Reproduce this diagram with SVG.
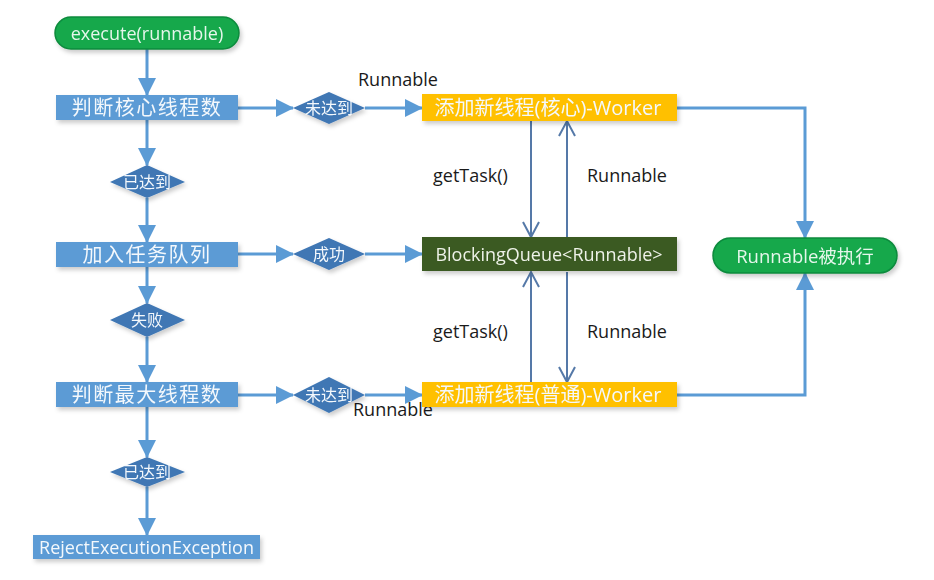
<svg xmlns="http://www.w3.org/2000/svg" width="934" height="580" viewBox="0 0 934 580">
<style>
.box{fill:#5b9bd5;}
.dia{fill:#3f77b4;}
.pill{fill:#12a84c;stroke:#0e8a3c;stroke-width:1.5;}
.yel{fill:#ffc000;}
.q{fill:#3b5a22;}
.t{font-family:"Open Sans","Noto Sans CJK SC",sans-serif;text-anchor:middle;dominant-baseline:central;}
.wt{fill:#f4f8fc;font-size:20px;}
.dt{fill:#f4f8fc;font-size:16px;}
.lb{fill:#1a1a1a;font-size:18px;font-family:"Open Sans","Noto Sans CJK SC",sans-serif;}
.c{fill:none;stroke:#5b9bd5;stroke-width:3;marker-end:url(#ah);}
.thin{fill:none;stroke:#5579a8;stroke-width:2;marker-end:url(#oh);}
</style>
<defs>
<marker id="ah" markerUnits="userSpaceOnUse" markerWidth="18" markerHeight="18" refX="17" refY="9" orient="auto">
<path d="M0,0 L18,9 L0,18 z" fill="#5b9bd5"/>
</marker>
<marker id="oh" markerUnits="userSpaceOnUse" markerWidth="20" markerHeight="20" refX="16" refY="10" orient="auto">
<path d="M1,2 L16,10 L1,18" fill="none" stroke="#5579a8" stroke-width="2"/>
</marker>
<filter id="sh" x="-10%" y="-30%" width="120%" height="170%">
<feDropShadow dx="2" dy="3" stdDeviation="2" flood-color="#000" flood-opacity="0.2"/>
</filter>
</defs>
<rect width="934" height="580" fill="#ffffff"/>

<g id="connectors">
<path class="c" d="M147,49 V95"/>
<path class="c" d="M147,120 V165"/>
<path class="c" d="M147,198 V242"/>
<path class="c" d="M147,267 V303"/>
<path class="c" d="M147,337 V382"/>
<path class="c" d="M147,407 V457"/>
<path class="c" d="M147,487 V535"/>
<path class="c" d="M238,108 H293"/>
<path class="c" d="M365,108 H422"/>
<path class="c" d="M238,254 H293"/>
<path class="c" d="M365,254 H422"/>
<path class="c" d="M238,395 H293"/>
<path class="c" d="M365,395 H422"/>
<path class="c" d="M677,108 H805 V238"/>
<path class="c" d="M677,395 H805 V273"/>
<path class="thin" d="M531,121 V237"/>
<path class="thin" d="M567,237 V121"/>
<path class="thin" d="M531,382 V272"/>
<path class="thin" d="M567,272 V382"/>
<text class="lb" x="358" y="86">Runnable</text>
<text class="lb" x="433" y="182">getTask()</text>
<text class="lb" x="587" y="182">Runnable</text>
<text class="lb" x="433" y="338">getTask()</text>
<text class="lb" x="587" y="338">Runnable</text>
<text class="lb" x="353" y="416">Runnable</text>
</g>

<g id="n-execute" filter="url(#sh)">
<rect class="pill" x="55" y="17" width="184" height="32" rx="16"/>
<text class="t" x="147" y="33" fill="#e6f6ea" font-size="18">execute(runnable)</text>
</g>
<g id="n-core" filter="url(#sh)">
<rect class="box" x="56" y="95" width="182" height="25"/>
<text class="t wt" x="147" y="107.5" letter-spacing="1.5">判断核心线程数</text>
</g>
<g id="n-d1" filter="url(#sh)">
<polygon class="dia" points="293,108 329,92 365,108 329,124"/>
<text class="t dt" x="329" y="108">未达到</text>
</g>
<g id="n-w1" filter="url(#sh)">
<rect class="yel" x="422" y="94" width="255" height="27"/>
<text class="t wt" x="548" y="107.5">添加新线程(核心)-Worker</text>
</g>
<g id="n-d2" filter="url(#sh)">
<polygon class="dia" points="110,182 147,165 185,182 147,198"/>
<text class="t dt" x="147" y="182">已达到</text>
</g>
<g id="n-queue-add" filter="url(#sh)">
<rect class="box" x="56" y="242" width="182" height="25"/>
<text class="t wt" x="147" y="254.5" letter-spacing="1.5">加入任务队列</text>
</g>
<g id="n-d3" filter="url(#sh)">
<polygon class="dia" points="293,254 329,238 365,254 329,270"/>
<text class="t dt" x="329" y="254">成功</text>
</g>
<g id="n-queue" filter="url(#sh)">
<rect class="q" x="422" y="237" width="255" height="34"/>
<text class="t" x="549" y="254" fill="#eef2e8" font-size="18">BlockingQueue&lt;Runnable&gt;</text>
</g>
<g id="n-run" filter="url(#sh)">
<rect class="pill" x="713" y="238" width="184" height="35" rx="17.5"/>
<text class="t" x="805" y="255.5" fill="#e6f6ea" font-size="18.5">Runnable被执行</text>
</g>
<g id="n-d4" filter="url(#sh)">
<polygon class="dia" points="110,320 147,303 185,320 147,337"/>
<text class="t dt" x="147" y="320">失败</text>
</g>
<g id="n-max" filter="url(#sh)">
<rect class="box" x="56" y="382" width="182" height="25"/>
<text class="t wt" x="147" y="394.5" letter-spacing="1.5">判断最大线程数</text>
</g>
<g id="n-d5" filter="url(#sh)">
<polygon class="dia" points="293,395 329,377 365,395 329,413"/>
<text class="t dt" x="329" y="395">未达到</text>
</g>
<g id="n-w2" filter="url(#sh)">
<rect class="yel" x="422" y="382" width="255" height="25"/>
<text class="t wt" x="548" y="394.5">添加新线程(普通)-Worker</text>
</g>
<g id="n-d6" filter="url(#sh)">
<polygon class="dia" points="110,472 147,457 185,472 147,487"/>
<text class="t dt" x="147" y="472">已达到</text>
</g>
<g id="n-reject" filter="url(#sh)">
<rect class="box" x="33" y="535" width="227" height="24"/>
<text class="t" x="146.5" y="547" fill="#f4f8fc" font-size="18">RejectExecutionException</text>
</g>
</svg>
